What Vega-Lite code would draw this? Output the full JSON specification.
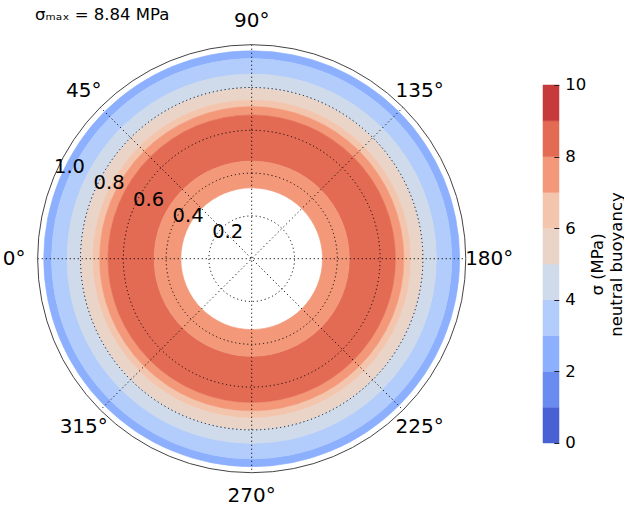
{
  "$schema": "https://vega.github.io/schema/vega-lite/v6.json",
  "width": 624,
  "height": 506,
  "autosize": {"type": "none"},
  "padding": 0,
  "background": "white",
  "config": {"view": {"stroke": null}, "font": "DejaVu Sans"},
  "title": {
    "text": "σₘₐₓ = 8.84 MPa",
    "anchor": "start",
    "frame": "group",
    "font": "DejaVu Sans",
    "fontSize": 16.5,
    "fontWeight": "normal",
    "color": "#000000",
    "baseline": "alphabetic",
    "offset": -36.3,
    "dx": 35
  },
  "datasets": {
    "rings": [
      {"band": "2–3", "r_in": 0.935, "r_out": 0.972},
      {"band": "3–4", "r_in": 0.863, "r_out": 0.935},
      {"band": "4–5", "r_in": 0.797, "r_out": 0.863},
      {"band": "5–6", "r_in": 0.742, "r_out": 0.797},
      {"band": "6–7", "r_in": 0.711, "r_out": 0.742},
      {"band": "7–8", "r_in": 0.672, "r_out": 0.711},
      {"band": "8–9", "r_in": 0.456, "r_out": 0.672},
      {"band": "7–8", "r_in": 0.331, "r_out": 0.456}
    ],
    "circles": [{"r": 0.2}, {"r": 0.4}, {"r": 0.6}, {"r": 0.8}],
    "spine": [{"r": 1.0}],
    "spokes": [
      {"x": -1, "y": 0, "x2": 1, "y2": 0},
      {"x": -0.7071, "y": 0.7071, "x2": 0.7071, "y2": -0.7071},
      {"x": 0, "y": 1, "x2": 0, "y2": -1},
      {"x": 0.7071, "y": 0.7071, "x2": -0.7071, "y2": -0.7071}
    ],
    "angles": [
      {"deg": 0, "label": "0°"},
      {"deg": 45, "label": "45°"},
      {"deg": 90, "label": "90°"},
      {"deg": 135, "label": "135°"},
      {"deg": 180, "label": "180°"},
      {"deg": 225, "label": "225°"},
      {"deg": 270, "label": "270°"},
      {"deg": 315, "label": "315°"}
    ],
    "rlabels": [
      {"r": 0.2, "label": "0.2"},
      {"r": 0.4, "label": "0.4"},
      {"r": 0.6, "label": "0.6"},
      {"r": 0.8, "label": "0.8"},
      {"r": 1.0, "label": "1.0"}
    ],
    "cbar": [
      {"band": "0–1", "lo": 0, "hi": 1},
      {"band": "1–2", "lo": 1, "hi": 2},
      {"band": "2–3", "lo": 2, "hi": 3},
      {"band": "3–4", "lo": 3, "hi": 4},
      {"band": "4–5", "lo": 4, "hi": 5},
      {"band": "5–6", "lo": 5, "hi": 6},
      {"band": "6–7", "lo": 6, "hi": 7},
      {"band": "7–8", "lo": 7, "hi": 8},
      {"band": "8–9", "lo": 8, "hi": 9},
      {"band": "9–10", "lo": 9, "hi": 10}
    ]
  },
  "layer": [
    {
      "layer": [
        {
          "data": {"name": "rings"},
          "mark": {"type": "arc", "theta": 0, "theta2": 6.2832, "strokeWidth": 0.6},
          "encoding": {
            "x": {"datum": 0, "type": "quantitative", "scale": {"domain": [-1.17617, 1.73972], "nice": false, "zero": false}, "axis": null},
            "y": {"datum": 0, "type": "quantitative", "scale": {"domain": [-1.15561, 1.20888], "nice": false, "zero": false}, "axis": null},
            "radius": {"field": "r_out", "type": "quantitative", "stack": null, "scale": {"type": "linear", "domain": [0, 1], "range": [0, 214], "zero": true}},
            "radius2": {"field": "r_in"},
            "color": {"field": "band", "type": "nominal", "legend": null, "scale": {"domain": ["0–1", "1–2", "2–3", "3–4", "4–5", "5–6", "6–7", "7–8", "8–9", "9–10"], "range": ["#4961d2", "#6a8bef", "#8db0fe", "#b2ccfb", "#cfdaea", "#ead4c8", "#f4c5ad", "#f4987a", "#e36b54", "#c63a3b"]}},
            "stroke": {"field": "band", "type": "nominal", "legend": null, "scale": {"domain": ["0–1", "1–2", "2–3", "3–4", "4–5", "5–6", "6–7", "7–8", "8–9", "9–10"], "range": ["#4961d2", "#6a8bef", "#8db0fe", "#b2ccfb", "#cfdaea", "#ead4c8", "#f4c5ad", "#f4987a", "#e36b54", "#c63a3b"]}}
          }
        },
        {
          "data": {"name": "circles"},
          "mark": {"type": "arc", "theta": 0, "theta2": 6.2832, "filled": false, "fill": null, "stroke": "#000000", "strokeWidth": 1, "strokeDash": [1.1, 2.9]},
          "encoding": {
            "x": {"datum": 0, "type": "quantitative", "scale": {"domain": [-1.17617, 1.73972], "nice": false, "zero": false}, "axis": null},
            "y": {"datum": 0, "type": "quantitative", "scale": {"domain": [-1.15561, 1.20888], "nice": false, "zero": false}, "axis": null},
            "radius": {"field": "r", "type": "quantitative", "stack": null, "scale": {"type": "linear", "domain": [0, 1], "range": [0, 214], "zero": true}}
          }
        },
        {
          "data": {"name": "spokes"},
          "mark": {"type": "rule", "stroke": "#000000", "strokeWidth": 1, "strokeDash": [1.1, 2.9]},
          "encoding": {
            "x": {"field": "x", "type": "quantitative", "scale": {"domain": [-1.17617, 1.73972], "nice": false, "zero": false}, "axis": null},
            "y": {"field": "y", "type": "quantitative", "scale": {"domain": [-1.15561, 1.20888], "nice": false, "zero": false}, "axis": null},
            "x2": {"field": "x2"},
            "y2": {"field": "y2"}
          }
        },
        {
          "data": {"name": "spine"},
          "mark": {"type": "arc", "theta": 0, "theta2": 6.2832, "filled": false, "fill": null, "stroke": "#444444", "strokeWidth": 1},
          "encoding": {
            "x": {"datum": 0, "type": "quantitative", "scale": {"domain": [-1.17617, 1.73972], "nice": false, "zero": false}, "axis": null},
            "y": {"datum": 0, "type": "quantitative", "scale": {"domain": [-1.15561, 1.20888], "nice": false, "zero": false}, "axis": null},
            "radius": {"field": "r", "type": "quantitative", "stack": null, "scale": {"type": "linear", "domain": [0, 1], "range": [0, 214], "zero": true}}
          }
        },
        {
          "data": {"name": "angles"},
          "mark": {"type": "text", "font": "DejaVu Sans", "fontSize": 20, "align": "center", "baseline": "middle", "color": "#000000"},
          "encoding": {
            "x": {"datum": 0, "type": "quantitative", "scale": {"domain": [-1.17617, 1.73972], "nice": false, "zero": false}, "axis": null},
            "y": {"datum": 0, "type": "quantitative", "scale": {"domain": [-1.15561, 1.20888], "nice": false, "zero": false}, "axis": null},
            "theta": {"field": "deg", "type": "quantitative", "scale": {"domain": [0, 360], "range": [-1.570796, 4.712389]}},
            "radius": {"datum": 1.11, "type": "quantitative", "scale": {"type": "linear", "domain": [0, 1], "range": [0, 214], "zero": true}},
            "text": {"field": "label"}
          }
        },
        {
          "data": {"name": "rlabels"},
          "mark": {"type": "text", "font": "DejaVu Sans", "fontSize": 19.5, "align": "left", "baseline": "bottom", "color": "#000000"},
          "encoding": {
            "x": {"datum": 0, "type": "quantitative", "scale": {"domain": [-1.17617, 1.73972], "nice": false, "zero": false}, "axis": null},
            "y": {"datum": 0, "type": "quantitative", "scale": {"domain": [-1.15561, 1.20888], "nice": false, "zero": false}, "axis": null},
            "theta": {"datum": 22.5, "type": "quantitative", "scale": {"domain": [0, 360], "range": [-1.570796, 4.712389]}},
            "radius": {"field": "r", "type": "quantitative", "stack": null, "scale": {"type": "linear", "domain": [0, 1], "range": [0, 214], "zero": true}},
            "text": {"field": "label"}
          }
        }
      ]
    },
    {
      "data": {"name": "cbar"},
      "mark": {"type": "rect", "strokeWidth": 0.5},
      "encoding": {
        "x": {"datum": 1.36121, "type": "quantitative", "scale": {"domain": [-1.17617, 1.73972], "nice": false, "zero": false}, "axis": null},
        "x2": {"datum": 1.43598},
        "y": {
          "field": "lo",
          "type": "quantitative",
          "scale": {"domain": [-1.75978, 12.3743], "nice": false, "zero": false},
          "axis": {
            "orient": "right",
            "offset": -70.2,
            "values": [0, 2, 4, 6, 8, 10],
            "domain": false,
            "grid": false,
            "ticks": true,
            "tickSize": 5,
            "tickColor": "#222222",
            "tickWidth": 1,
            "labelFont": "DejaVu Sans",
            "labelFontSize": 16.5,
            "labelColor": "#000000",
            "labelPadding": 6,
            "labelAlign": "left",
            "labelBaseline": "middle",
            "zindex": 1,
            "title": ["σ (MPa)", "neutral buoyancy"],
            "titleFont": "DejaVu Sans",
            "titleFontSize": 16.5,
            "titleFontWeight": "normal",
            "titleColor": "#000000",
            "titleAngle": 270,
            "titleAlign": "center",
            "titleBaseline": "alphabetic",
            "titleLineHeight": 19,
            "titleX": 49,
            "titleY": 264
          }
        },
        "y2": {"field": "hi"},
        "color": {"field": "band", "type": "nominal", "legend": null, "scale": {"domain": ["0–1", "1–2", "2–3", "3–4", "4–5", "5–6", "6–7", "7–8", "8–9", "9–10"], "range": ["#4961d2", "#6a8bef", "#8db0fe", "#b2ccfb", "#cfdaea", "#ead4c8", "#f4c5ad", "#f4987a", "#e36b54", "#c63a3b"]}},
        "stroke": {"field": "band", "type": "nominal", "legend": null, "scale": {"domain": ["0–1", "1–2", "2–3", "3–4", "4–5", "5–6", "6–7", "7–8", "8–9", "9–10"], "range": ["#4961d2", "#6a8bef", "#8db0fe", "#b2ccfb", "#cfdaea", "#ead4c8", "#f4c5ad", "#f4987a", "#e36b54", "#c63a3b"]}}
      }
    }
  ],
  "resolve": {"scale": {"y": "independent"}}
}
